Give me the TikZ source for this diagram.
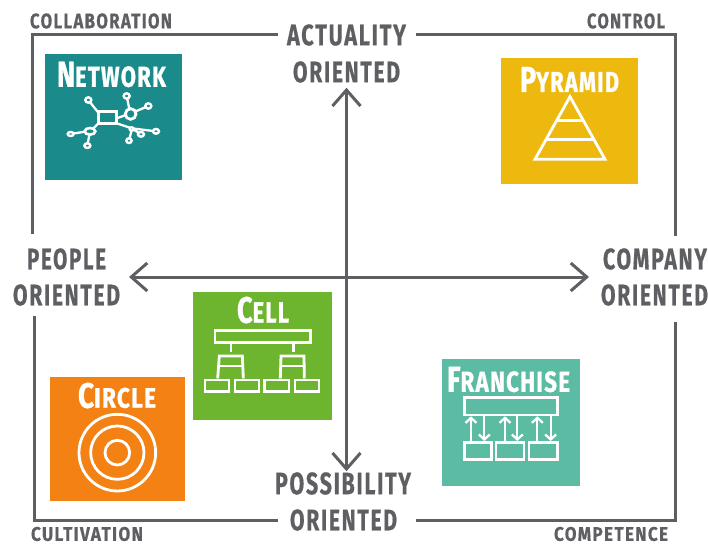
\documentclass[tikz,border=0pt]{standalone}
\usepackage{fontspec}
\usepackage{graphicx}
\usetikzlibrary{arrows.meta,fit}
\setmainfont{Fira Sans}
\newfontfamily\labfont[LetterSpace=8,FakeBold=0.6,BoldFont={Fira Sans Bold}]{Fira Sans}
\newfontfamily\titfont[LetterSpace=6,FakeBold=1.2]{Fira Sans}
\definecolor{framegray}{HTML}{5E5F63}
\definecolor{tealbox}{HTML}{1A8A8A}
\definecolor{goldbox}{HTML}{EEB90F}
\definecolor{greenbox}{HTML}{6DB52F}
\definecolor{orangebox}{HTML}{F38114}
\definecolor{mintbox}{HTML}{5CBBA3}
% fit text to an exact width and height
\newcommand{\fitlab}[3]{\resizebox{#1pt}{#2pt}{\labfont\bfseries #3}}
\newcommand{\fittit}[4]{\resizebox{#1pt}{#2pt}{\titfont\bfseries\fontsize{30}{30}\selectfont #3\fontsize{24}{24}\selectfont #4}}
\tikzset{
  lab/.style={inner sep=0pt,outer sep=0pt,text=framegray},
  group/.style={inner sep=0pt,outer sep=0pt},
  title/.style={inner sep=0pt,outer sep=0pt,text=white},
  frameline/.style={draw=framegray,line width=3pt,line join=miter},
  axis/.style={draw=framegray,line width=3pt,{Straight Barb[length=16pt,width=28pt]}-{Straight Barb[length=16pt,width=28pt]}},
  icon/.style={draw=white,line width=2.8pt,line join=miter},
  thinicon/.style={draw=white,line width=2.3pt}
}
\begin{document}
\begin{tikzpicture}[x=1pt,y=-1pt]
\useasboundingbox (0,0) rectangle (708,545);
% tiles
\fill[tealbox] (45,54) rectangle (182,180);
\fill[goldbox] (501,58) rectangle (638,184);
\fill[greenbox] (193,292) rectangle (332,420);
\fill[mintbox] (442,359) rectangle (580,486);
\fill[orangebox] (50,377) rectangle (185,501);
% labels
\node[lab] (act1) at (346.5,35) {\fitlab{119}{21}{ACTUALITY}};
\node[lab] (act2) at (346.5,72) {\fitlab{107}{21}{ORIENTED}};
\node[group,fit=(act1)(act2)] (actuality) {};
\node[lab] (peo1) at (66.5,259) {\fitlab{79}{21}{PEOPLE}};
\node[lab] (peo2) at (66.5,295) {\fitlab{107}{21}{ORIENTED}};
\node[group,fit=(peo1)(peo2)] (people) {};
\node[lab] (com1) at (655,259) {\fitlab{104}{21}{COMPANY}};
\node[lab] (com2) at (654.5,295) {\fitlab{107}{21}{ORIENTED}};
\node[group,fit=(com1)(com2)] (company) {};
\node[lab] (pos1) at (343,483.5) {\fitlab{136}{22}{POSSIBILITY}};
\node[lab] (pos2) at (343.5,520) {\fitlab{107}{21}{ORIENTED}};
\node[group,fit=(pos1)(pos2)] (possibility) {};
\node[lab] (collab) at (101,21) {\fitlab{142}{15}{COLLABORATION}};
\node[lab] (control) at (626,21) {\fitlab{78}{15}{CONTROL}};
\node[lab] (cultiv) at (87,534) {\fitlab{112}{14}{CULTIVATION}};
\node[lab] (compet) at (611,534) {\fitlab{114}{14}{COMPETENCE}};
% frame
\coordinate (cTL) at (32,33);
\coordinate (cTR) at (675,33);
\coordinate (cBL) at (34,520);
\coordinate (cBR) at (675,520);
\draw[frameline,shorten <=9pt,shorten >=14pt] (act1.west) -- (act1.west -| cTL) -- (cTL |- peo1.north);
\draw[frameline,shorten <=10pt,shorten >=12pt] (act1.east) -- (act1.east -| cTR) -- (cTR |- com1.north);
\draw[frameline,shorten <=12pt,shorten >=10pt] (pos2.west) -- (pos2.west -| cBL) -- (cBL |- peo2.south);
\draw[frameline,shorten <=19pt,shorten >=16pt] (pos2.east) -- (pos2.east -| cBR) -- (cBR |- com2.south);
% axes
\draw[axis,shorten <=5pt,shorten >=1pt] (actuality.south) -- (actuality.south |- possibility.north);
\draw[axis,shorten <=9pt,shorten >=12pt] (people.east) -- (company.west);
% titles
\node[title] (tnet) at (111.5,74.5) {\fittit{109}{25}{N}{ETWORK}};
\node[title] (tpyr) at (569.5,79.5) {\fittit{99}{25}{P}{YRAMID}};
\node[title] (tcel) at (263,310) {\fittit{52}{26}{C}{ELL}};
\node[title] (tfra) at (508.5,379.5) {\fittit{123}{25}{F}{RANCHISE}};
\node[title] (tcir) at (117,395.5) {\fittit{78}{25}{C}{IRCLE}};
% network icon
\begin{scope}[shift={(30,40)},x=0.3333pt,y=-0.3333pt]
\draw[icon] (205,215) rectangle (260,250);
\draw[thinicon] (205,218)--(175,180) (260,235)--(288,225) (298,207)--(290,168) (315,215)--(355,198)
 (205,250)--(190,265) (165,275)--(122,282) (178,285)--(172,317)
 (260,250)--(305,265)--(378,274) (305,270)--(297,302) (305,265)--(333,283);
\foreach \px/\py/\rx/\ry in {175/180/9/8,290/168/9/8,355/198/9/8,122/282/9/6,172/317/9/7,378/274/9/7,297/302/8/7,333/283/9/7,305/267/6/5}
  \filldraw[draw=white,fill=tealbox,line width=2.4pt] (\px,\py) ellipse[x radius=\rx,y radius=\ry];
\filldraw[draw=white,fill=tealbox,line width=2.8pt] (302,222) circle[radius=16];
\filldraw[draw=white,fill=tealbox,line width=2.6pt] (180,274) ellipse[x radius=16,y radius=10];
\end{scope}
% pyramid icon
\begin{scope}[shift={(490,50)},x=0.3333pt,y=-0.3333pt]
\draw[icon] (240,140)--(135,328)--(345,328)--cycle;
\draw[icon] (200,212)--(280,212) (167,268)--(312,268);
\end{scope}
% cell icon
\begin{scope}[shift={(180,280)},x=0.3333pt,y=-0.3333pt]
\draw[icon] (105,152) rectangle (392,187);
\draw[icon] (153,187)--(153,215) (340,187)--(340,215);
\draw[icon] (113,295)--(118,228)--(187,228)--(190,295);
\draw[icon] (301,295)--(303,228)--(372,228)--(373,295);
\draw[icon] (116,258)--(189,258) (302,258)--(373,258);
\draw[icon] (75,300) rectangle (147,335) (165,300) rectangle (237,335) (253,300) rectangle (327,335) (345,300) rectangle (417,335);
\end{scope}
% franchise icon
\begin{scope}[shift={(430,350)},x=0.3333pt,y=-0.3333pt]
\draw[icon] (103,143) rectangle (383,195) (103,277) rectangle (185,328) (198,277) rectangle (282,328) (297,277) rectangle (383,328);
\foreach \ux/\dx in {123/163,225/262,322/362}{
  \draw[thinicon,-{Straight Barb[length=5pt,width=11pt]}] (\ux,277)--(\ux,199);
  \draw[thinicon,-{Straight Barb[length=5pt,width=11pt]}] (\dx,195)--(\dx,273);
}
\end{scope}
% circle icon
\begin{scope}[shift={(40,370)},x=0.3333pt,y=-0.3333pt]
\draw[icon] (232,248) circle[radius=115] (232,248) circle[radius=80] (232,248) circle[radius=37];
\end{scope}
\end{tikzpicture}
\end{document}
